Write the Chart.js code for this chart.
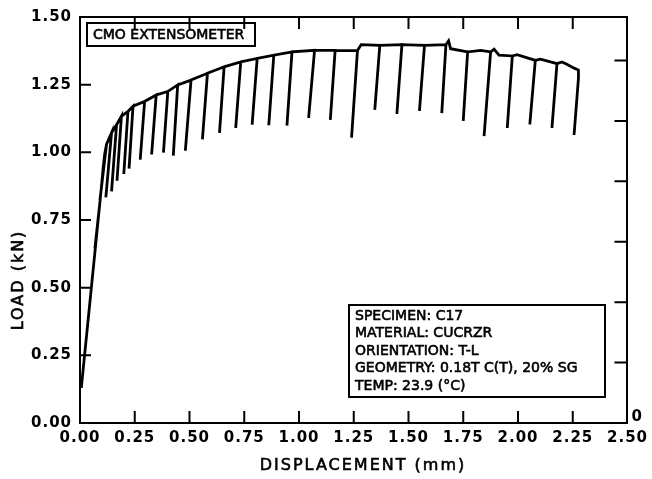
<!DOCTYPE html>
<html>

<head>
  <script src="https://cdn.jsdelivr.net/npm/chart.js@4/dist/chart.umd.min.js"></script>
  <style>
    body { margin: 0; background: #fff; }
  </style>
</head>

<body>
  <canvas id="chart" width="652" height="479"></canvas>
  <script>
    // load vs. CMOD record, each unloading excursion goes down and back up to its peak
    const disp = [
      0.006, 0.091, 0.068, 0.091, 0.100, 0.106, 0.113,
      0.121, 0.091, 0.121,
      0.144, 0.118, 0.144,
      0.167, 0.144, 0.167,
      0.189, 0.169, 0.189,
      0.219, 0.200, 0.219,
      0.242, 0.224, 0.242,
      0.295, 0.275, 0.295,
      0.348, 0.327, 0.348,
      0.401, 0.381, 0.401,
      0.446, 0.426, 0.446,
      0.507, 0.481, 0.507,
      0.582, 0.559, 0.582,
      0.658, 0.637, 0.658,
      0.734, 0.711, 0.734,
      0.809, 0.786, 0.809,
      0.885, 0.862, 0.885,
      0.968, 0.945, 0.968,
      1.071, 1.044, 1.071,
      1.165, 1.143, 1.165,
      1.267, 1.240, 1.267, 1.284,
      1.369, 1.346, 1.369,
      1.470, 1.447, 1.470,
      1.573, 1.550, 1.573,
      1.671, 1.652, 1.671, 1.683, 1.692,
      1.770, 1.750, 1.770, 1.830,
      1.875, 1.845, 1.875, 1.891, 1.913,
      1.974, 1.951, 1.974, 1.996,
      2.079, 2.054, 2.079, 2.102,
      2.178, 2.155, 2.178, 2.201, 2.223, 2.254, 2.276, 2.276,
      2.256
    ];
    const load = [
      0.130, 0.816, 0.645, 0.816, 0.890, 0.945, 0.995,
      1.029, 0.823, 1.029,
      1.072, 0.834, 1.072,
      1.102, 0.856, 1.102,
      1.133, 0.895, 1.133,
      1.151, 0.920, 1.151,
      1.170, 0.940, 1.170,
      1.188, 0.973, 1.188,
      1.212, 0.992, 1.212,
      1.225, 0.999, 1.225,
      1.249, 0.988, 1.249,
      1.267, 1.006, 1.267,
      1.292, 1.048, 1.292,
      1.316, 1.072, 1.316,
      1.334, 1.090, 1.334,
      1.347, 1.102, 1.347,
      1.359, 1.100, 1.359,
      1.371, 1.099, 1.371,
      1.377, 1.127, 1.377,
      1.377, 1.120, 1.377,
      1.376, 1.054, 1.376, 1.398,
      1.395, 1.157, 1.395,
      1.398, 1.142, 1.398,
      1.395, 1.153, 1.395,
      1.398, 1.145, 1.398, 1.412, 1.383,
      1.371, 1.116, 1.371, 1.377,
      1.371, 1.060, 1.371, 1.381, 1.359,
      1.356, 1.090, 1.356, 1.361,
      1.340, 1.103, 1.340, 1.344,
      1.328, 1.090, 1.328, 1.334, 1.325, 1.312, 1.304, 1.273,
      1.064
    ];

    const xTicks = [0, 0.25, 0.5, 0.75, 1, 1.25, 1.5, 1.75, 2, 2.25, 2.5];
    const yTicks = [0, 0.25, 0.5, 0.75, 1, 1.25, 1.5];
    const rightTicks = [0, 1, 2, 3, 4, 5, 6];

    const gaugeLabel = 'CMO EXTENSOMETER';
    const specimenInfo = [
      'SPECIMEN: C17',
      'MATERIAL: CUCRZR',
      'ORIENTATION: T-L',
      'GEOMETRY: 0.18T C(T), 20% SG',
      'TEMP: 23.9 (°C)'
    ];
    const xTitle = 'DISPLACEMENT (mm)';
    const yTitle = 'LOAD (kN)';

    const tickFont = { family: 'DejaVu Sans', size: 15, weight: 'bold' };

    // plotter-style wide lettering for the tick labels
    const spacing = {
      id: 'spacing',
      beforeDraw(chart) {
        chart.ctx.letterSpacing = '1px';
      }
    };

    // tick marks point into the plot on all four sides
    const inwardTicks = {
      id: 'inwardTicks',
      afterDraw(chart) {
        const { ctx, chartArea: a, scales } = chart;
        ctx.save();
        ctx.strokeStyle = '#000';
        ctx.lineWidth = 2;
        ctx.beginPath();
        xTicks.slice(1, -1).forEach(v => {
          const px = scales.x.getPixelForValue(v);
          ctx.moveTo(px, a.bottom);
          ctx.lineTo(px, a.bottom - 12);
          ctx.moveTo(px, a.top);
          ctx.lineTo(px, a.top + 12);
        });
        yTicks.slice(1, -1).forEach(v => {
          const py = scales.y.getPixelForValue(v);
          ctx.moveTo(a.left, py);
          ctx.lineTo(a.left + 11, py);
        });
        rightTicks.slice(1).forEach(v => {
          const py = scales.y2.getPixelForValue(v);
          ctx.moveTo(a.right, py);
          ctx.lineTo(a.right - 13, py);
        });
        ctx.stroke();
        ctx.restore();
      }
    };

    // heavier pen for the plain-weight lettering
    function penText(ctx, text, x, y) {
      ctx.fillText(text, x, y);
      ctx.strokeText(text, x, y);
    }

    // axis titles and the two boxed notes
    const notes = {
      id: 'notes',
      afterDraw(chart) {
        const { ctx, chartArea: a } = chart;
        ctx.save();
        ctx.fillStyle = '#000';
        ctx.strokeStyle = '#000';

        ctx.lineWidth = 0.6;
        ctx.font = '16px "DejaVu Sans"';
        ctx.letterSpacing = '2px';
        ctx.textAlign = 'center';
        ctx.textBaseline = 'middle';
        penText(ctx, xTitle, 363, 466);
        ctx.save();
        ctx.translate(19, 280);
        ctx.rotate(-Math.PI / 2);
        penText(ctx, yTitle, 0, 0);
        ctx.restore();

        ctx.letterSpacing = '0px';
        ctx.font = '14px "DejaVu Sans"';
        ctx.textAlign = 'left';
        penText(ctx, gaugeLabel, a.left + 13, 35);
        specimenInfo.forEach((line, i) => {
          penText(ctx, line, 355, 316 + i * 17.6);
        });

        ctx.lineWidth = 2;
        ctx.strokeRect(a.left + 7, 23, 168, 23);
        ctx.strokeRect(349, 305, 256, 92);
        ctx.restore();
      }
    };

    new Chart('chart', {
      type: 'scatter',
      data: {
        datasets: [{
          data: disp.map((d, i) => ({ x: d, y: load[i] })),
          showLine: true,
          borderColor: '#000',
          borderWidth: 2.8,
          pointRadius: 0,
          tension: 0
        }]
      },
      options: {
        responsive: false,
        animation: false,
        layout: { padding: 0 },
        plugins: {
          legend: { display: false },
          tooltip: { enabled: false }
        },
        scales: {
          x: {
            type: 'linear',
            position: 'bottom',
            min: 0,
            max: 2.5,
            afterBuildTicks: s => { s.ticks = xTicks.map(v => ({ value: v })); },
            ticks: {
              callback: v => v.toFixed(2),
              font: tickFont,
              color: '#000',
              padding: 6,
              maxRotation: 0,
              autoSkip: false
            },
            grid: { display: false, drawTicks: false },
            border: { display: true, color: '#000', width: 2 },
            afterFit: s => { s.height = 56; }
          },
          x2: {
            type: 'linear',
            position: 'top',
            min: 0,
            max: 2.5,
            ticks: { display: false },
            grid: { display: false, drawTicks: false },
            border: { display: true, color: '#000', width: 2 },
            afterFit: s => { s.height = 13; }
          },
          y: {
            type: 'linear',
            position: 'left',
            min: 0,
            max: 1.5,
            afterBuildTicks: s => { s.ticks = yTicks.map(v => ({ value: v })); },
            ticks: {
              callback: v => v.toFixed(2),
              font: tickFont,
              color: '#000',
              padding: 8
            },
            grid: { display: false, drawTicks: false },
            border: { display: true, color: '#000', width: 2 },
            afterFit: s => { s.width = 80; }
          },
          y2: {
            type: 'linear',
            position: 'right',
            min: 0,
            max: 6.72,
            afterBuildTicks: s => { s.ticks = rightTicks.map(v => ({ value: v })); },
            ticks: {
              callback: v => (v === 0 ? '0' : ''),
              font: tickFont,
              color: '#000',
              padding: 4,
              labelOffset: -6
            },
            grid: { display: false, drawTicks: false },
            border: { display: true, color: '#000', width: 2 },
            afterFit: s => { s.width = 21; }
          }
        }
      },
      plugins: [spacing, inwardTicks, notes]
    });
  </script>
</body>

</html>
